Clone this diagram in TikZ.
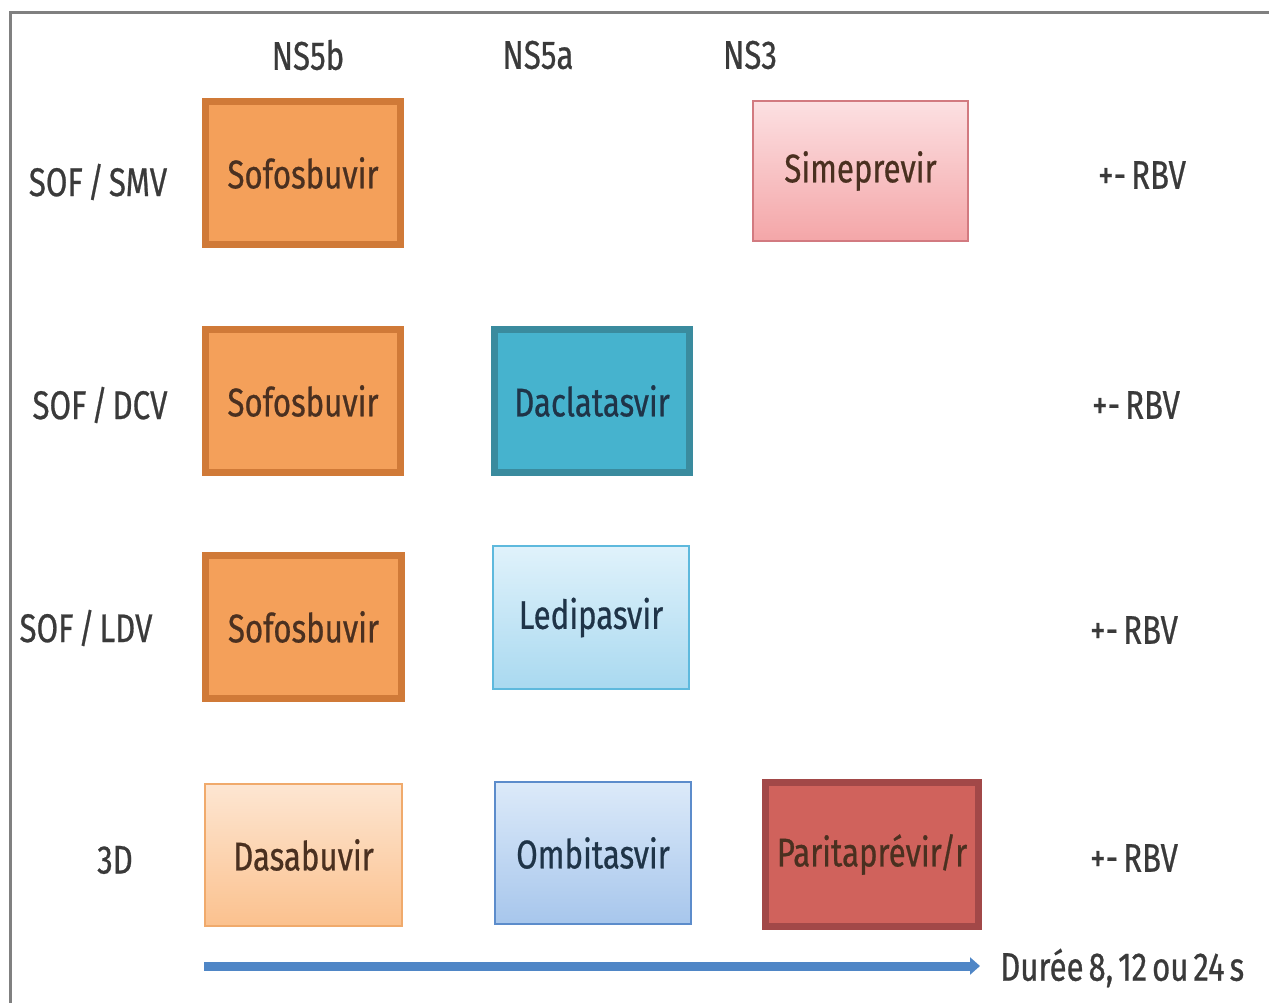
\documentclass[tikz,border=0pt]{standalone}
\usepackage{fontspec}
\setmainfont{Fira Sans}[FakeStretch=0.78, FakeBold=0.6, WordSpace=0.6]
\usetikzlibrary{arrows.meta}
\definecolor{txt}{HTML}{3A3A3A}
\definecolor{orfill}{HTML}{F4A05A}
\definecolor{ordraw}{HTML}{D07A38}
\definecolor{tealfill}{HTML}{46B3CE}
\definecolor{tealdraw}{HTML}{3A8B9E}
\definecolor{redfill}{HTML}{D0625C}
\definecolor{reddraw}{HTML}{A24848}
\definecolor{pinktop}{HTML}{FCE0E2}
\definecolor{pinkbot}{HTML}{F4A6A8}
\definecolor{pinkdraw}{HTML}{D27A80}
\definecolor{ltbtop}{HTML}{E0F2FB}
\definecolor{ltbbot}{HTML}{A9D9F0}
\definecolor{ltbdraw}{HTML}{5EB9DD}
\definecolor{peachtop}{HTML}{FDE6D2}
\definecolor{peachbot}{HTML}{FBC18E}
\definecolor{peachdraw}{HTML}{F0AA6C}
\definecolor{omtop}{HTML}{DCEAF9}
\definecolor{ombot}{HTML}{A7C6EC}
\definecolor{omdraw}{HTML}{5C8CCB}
\definecolor{arrowc}{HTML}{4F86C6}
\definecolor{framec}{HTML}{808080}
\definecolor{boxtxt}{HTML}{4A3020}
\definecolor{bluetxt}{HTML}{1F3448}
\begin{document}
\begin{tikzpicture}[x=1pt,y=-1pt,
  every node/.style={font=\fontsize{40}{46}\selectfont, text=txt, inner sep=0pt},
  lbl/.style={},
  thickbox/.style={draw, line width=7pt, rectangle},
  thinbox/.style={draw, line width=2.5pt, rectangle},
]
\useasboundingbox (0,0) rectangle (1269,1003);
\draw[framec, line width=3pt] (10,1003) -- (10,13) -- (1269,13);

% headers
\node[lbl] (h1) at (308,55) {NS5b};
\node[lbl] (h2) at (538,55) {NS5a};
\node[lbl] (h3) at (750,55) {NS3};

% row labels
\node[lbl] (r1) at (98,182) {SOF / SMV};
\node[lbl] (r2) at (100,405) {SOF / DCV};
\node[lbl] (r3) at (86,628) {SOF / LDV};
\node[lbl] (r4) at (115,860) {3D};

% RBV
\node[lbl] (b1) at (1142,175) {+- RBV};
\node[lbl] (b2) at (1136,405) {+- RBV};
\node[lbl] (b3) at (1134,630) {+- RBV};
\node[lbl] (b4) at (1134,858) {+- RBV};

% row 1
\node[thickbox, draw=ordraw, fill=orfill, minimum width=195pt, minimum height=143pt, text=boxtxt] (s1) at (303,173) {Sofosbuvir};
\node[thinbox, draw=pinkdraw, top color=pinktop, bottom color=pinkbot, minimum width=215pt, minimum height=140pt, text=boxtxt] (sim) at (860.5,171) {Simeprevir};

% row 2
\node[thickbox, draw=ordraw, fill=orfill, minimum width=195pt, minimum height=143pt, text=boxtxt] (s2) at (303,401) {Sofosbuvir};
\node[thickbox, draw=tealdraw, fill=tealfill, minimum width=195pt, minimum height=143pt, text=bluetxt] (dac) at (592,401) {Daclatasvir};

% row 3
\node[thickbox, draw=ordraw, fill=orfill, minimum width=196pt, minimum height=143pt, text=boxtxt] (s3) at (303.5,627) {Sofosbuvir};
\node[thinbox, draw=ltbdraw, top color=ltbtop, bottom color=ltbbot, minimum width=196pt, minimum height=143pt, text=bluetxt] (led) at (591,617.5) {Ledipasvir};

% row 4
\node[thinbox, draw=peachdraw, top color=peachtop, bottom color=peachbot, minimum width=197pt, minimum height=142pt, text=boxtxt] (das) at (303.5,855) {Dasabuvir};
\node[thinbox, draw=omdraw, top color=omtop, bottom color=ombot, minimum width=196pt, minimum height=142pt, text=bluetxt] (omb) at (593,853) {Ombitasvir};
\node[thickbox, draw=reddraw, fill=redfill, minimum width=213pt, minimum height=144pt, text=boxtxt] (par) at (872,854.5) {Paritaprévir/r};

% arrow
\coordinate (a0) at (204,966);
\coordinate (a1) at (980,966);
\draw[arrowc, line width=9pt, -{Triangle[length=10pt,width=17pt]}] (a0) -- (a1);
\node[lbl, anchor=west] (dur) at (1000,968) {Durée 8, 12 ou 24 s};
\end{tikzpicture}
\end{document}
